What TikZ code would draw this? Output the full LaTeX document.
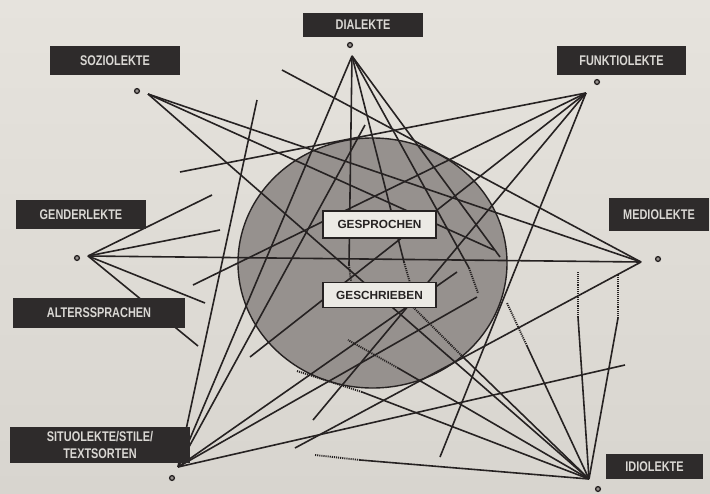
\documentclass[tikz,border=0pt]{standalone}
\usepackage{fontspec}
\setsansfont{Liberation Sans}
\newfontfamily\tagfont[FakeStretch=0.78]{Liberation Sans}
\usepackage{xcolor}
\definecolor{paper}{HTML}{E6E3DD}
\definecolor{paperdark}{HTML}{D8D5CF}
\definecolor{ink}{HTML}{262222}
\definecolor{disc}{HTML}{96918E}
\definecolor{tagbg}{HTML}{2E2B2B}
\definecolor{tagtxt}{HTML}{DAD8D4}
\definecolor{boxbg}{HTML}{ECEAE5}

\tikzset{
  link/.style={ink, line width=1.6pt},
  dotlink/.style={ink, line width=1.9pt, dash pattern=on 1.1pt off 1pt},
  hubdot/.style={ink, line width=1.3pt, fill=disc},
  tag/.style={fill=tagbg, text=tagtxt, inner sep=0pt, align=center,
    font=\tagfont\bfseries\fontsize{14}{17.5}\selectfont},
  midtag/.style={fill=boxbg, draw=ink, line width=1.3pt, text=ink, inner sep=0pt,
    minimum width=113pt, font=\sffamily\bfseries\fontsize{11.8}{13}\selectfont}
}

\begin{document}
\begin{tikzpicture}[x=1pt, y=-1pt]
  % paper
  \shade[top color=paper, bottom color=paperdark] (0,0) rectangle (710,493);
  \useasboundingbox (0,0) rectangle (710,493);

  % the disc
  \draw[ink, line width=1.4pt, fill=disc] (372.5,263) ellipse [x radius=134.5, y radius=125];

  % hubs
  \coordinate (dia) at (352,56);
  \coordinate (soz) at (148,94);
  \coordinate (fun) at (586,93);
  \coordinate (gen) at (88,256);
  \coordinate (med) at (641,262);
  \coordinate (sit) at (178,467);
  \coordinate (idi) at (589,479);

  % loose ends
  \coordinate (st1) at (257,100);
  \coordinate (st2) at (365,125);
  \coordinate (st3) at (457,272);
  \coordinate (st4) at (477,297);
  \coordinate (st5) at (625,365);
  \coordinate (me1) at (282,70);
  \coordinate (me2) at (295,448);
  \coordinate (fu1) at (180,172);
  \coordinate (fu2) at (193,285);
  \coordinate (fu3) at (250,357);
  \coordinate (fu4) at (313,420);
  \coordinate (fu5) at (440,457);
  \coordinate (ge1) at (212,195);
  \coordinate (ge2) at (220,230);
  \coordinate (ge3) at (205,303);
  \coordinate (ge4) at (198,346);
  \coordinate (so1) at (494,250);
  \coordinate (di1) at (500,257);

  % ends that fade into dots
  \coordinate (da) at (349,265);  \coordinate (dax) at (351,281);
  \coordinate (db) at (404,262);  \coordinate (dbx) at (410,283);
  \coordinate (dc) at (469,268);  \coordinate (dcx) at (478,293);
  \coordinate (ia) at (463,357);  \coordinate (iax) at (413,307);
  \coordinate (ib) at (398,368);  \coordinate (ibx) at (348,340);
  \coordinate (ic) at (362,392);  \coordinate (icx) at (297,371);
  \coordinate (id) at (360,460);  \coordinate (idx) at (315,455);
  \coordinate (ie) at (527,346);  \coordinate (iex) at (507,303);
  \coordinate (if) at (578,317);  \coordinate (ifx) at (578,272);
  \coordinate (ig) at (618,318);  \coordinate (igx) at (618,275);

  % Dialekte
  \draw[link] (dia) -- (sit);
  \draw[link] (dia) -- (da);  \draw[dotlink] (da) -- (dax);
  \draw[link] (dia) -- (db);  \draw[dotlink] (db) -- (dbx);
  \draw[link] (dia) -- (dc);  \draw[dotlink] (dc) -- (dcx);
  \draw[link] (dia) -- (di1);

  % Soziolekte
  \draw[link] (soz) -- (med);
  \draw[link] (soz) -- (so1);
  \draw[link] (soz) -- (idi);

  % Funktiolekte
  \draw[link] (fun) -- (fu1);
  \draw[link] (fun) -- (fu2);
  \draw[link] (fun) -- (fu3);
  \draw[link] (fun) -- (fu4);
  \draw[link] (fun) -- (fu5);

  % Genderlekte
  \draw[link] (gen) -- (ge1);
  \draw[link] (gen) -- (ge2);
  \draw[link] (gen) -- (med);
  \draw[link] (gen) -- (ge3);
  \draw[link] (gen) -- (ge4);

  % Mediolekte
  \draw[link] (med) -- (me1);
  \draw[link] (med) -- (me2);

  % Situolekte
  \draw[link] (sit) -- (st1);
  \draw[link] (sit) -- (st2);
  \draw[link] (sit) -- (st3);
  \draw[link] (sit) -- (st4);
  \draw[link] (sit) -- (st5);

  % Idiolekte
  \draw[link] (idi) -- (ia);  \draw[dotlink] (ia) -- (iax);
  \draw[link] (idi) -- (ib);  \draw[dotlink] (ib) -- (ibx);
  \draw[link] (idi) -- (ic);  \draw[dotlink] (ic) -- (icx);
  \draw[link] (idi) -- (id);  \draw[dotlink] (id) -- (idx);
  \draw[link] (idi) -- (ie);  \draw[dotlink] (ie) -- (iex);
  \draw[link] (idi) -- (if);  \draw[dotlink] (if) -- (ifx);
  \draw[link] (idi) -- (ig);  \draw[dotlink] (ig) -- (igx);

  % small rings beside the hubs
  \foreach \x/\y in {350/45, 137/91, 597/82, 77/258, 658/259, 172/478, 598/489}
    \draw[hubdot] (\x,\y) circle (2.4pt);

  % labels
  \node[tag, minimum width=120pt, minimum height=24pt] (tdia) at (363,25) {DIALEKTE};
  \node[tag, minimum width=130pt, minimum height=29pt] (tsoz) at (115,60.5) {SOZIOLEKTE};
  \node[tag, minimum width=129pt, minimum height=29pt] (tfun) at (621.5,60.5) {FUNKTIOLEKTE};
  \node[tag, minimum width=130pt, minimum height=29pt] (tgen) at (81,214.5) {GENDERLEKTE};
  \node[tag, minimum width=100pt, minimum height=33pt] (tmed) at (659,214.5) {MEDIOLEKTE};
  \node[tag, minimum width=172pt, minimum height=30pt] (talt) at (99,313) {ALTERSSPRACHEN};
  \node[tag, minimum width=180pt, minimum height=36pt] (tsit) at (100,445) {SITUOLEKTE/STILE/\\TEXTSORTEN};
  \node[tag, minimum width=97pt, minimum height=25pt] (tidi) at (654.5,466.5) {IDIOLEKTE};

  \node[midtag, minimum height=27pt] (gesp) at (379.5,224.5) {GESPROCHEN};
  \node[midtag, minimum height=25pt] (gesc) at (379.5,295) {GESCHRIEBEN};
\end{tikzpicture}
\end{document}
